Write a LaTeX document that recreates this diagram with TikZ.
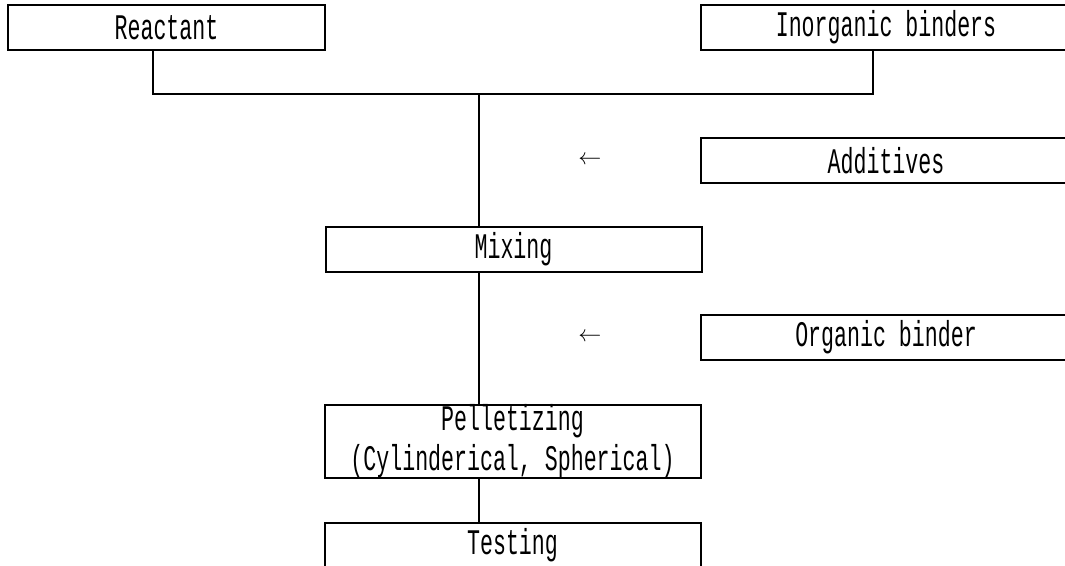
\documentclass[tikz,border=0pt]{standalone}
\usepackage{fontspec}
\usetikzlibrary{positioning,calc}
\newfontfamily\boxfont[FakeStretch=0.6]{Liberation Mono}
\newcommand\boxtext{\boxfont\fontsize{27pt}{24pt}\selectfont}
\tikzset{
  box/.style={draw=black, line width=1.5pt, align=center, inner sep=0pt,
              minimum height=33.75pt, font=\boxtext},
  link/.style={line width=1.5pt},
  tag/.style={font=\fontsize{19pt}{19pt}\selectfont},
}
\begin{document}
\begin{tikzpicture}[x=0.75pt, y=-0.75pt]
        \useasboundingbox (0,0) rectangle (1065,566);
        \clip (0,0) rectangle (1065,566);
        % inputs
        \node[box, minimum width=237.75pt] (rea) at (166.5,27.5) {Reactant};
        \node[box, minimum width=277.5pt] (inorg) at (886,27.5) {Inorganic binders};
        \node[box, minimum width=277.5pt] (add) at (886,160.5) {Additives};
        \node[box, minimum width=277.5pt] (org) at (886,337.5) {Organic binder};
        % main line
        \node[box, minimum width=282pt, minimum height=54.75pt] (pel) at (512.5,441.5)
          {Pelletizing\\[4pt](Cylinderical, Spherical)};
        \node[box, minimum width=282pt] (mix) at (513.5,249.5) {Mixing};
        \node[box, minimum width=282pt] (test) at (512.5,545.5) {Testing};
        \node[tag] (a1) at (590,160.5) {$\leftarrow$};
        \node[tag] (a2) at (590,337.5) {$\leftarrow$};
        \coordinate (j) at (479,94);
        \draw[link] (rea.south -| 153,0) |- (j) -| (inorg.south -| 873,0);
        \draw[link] (j) -- (j |- mix.north);
        \draw[link] (j |- mix.south) -- (j |- pel.north);
        \draw[link] (j |- pel.south) -- (j |- test.north);
      \end{tikzpicture}
\end{document}
